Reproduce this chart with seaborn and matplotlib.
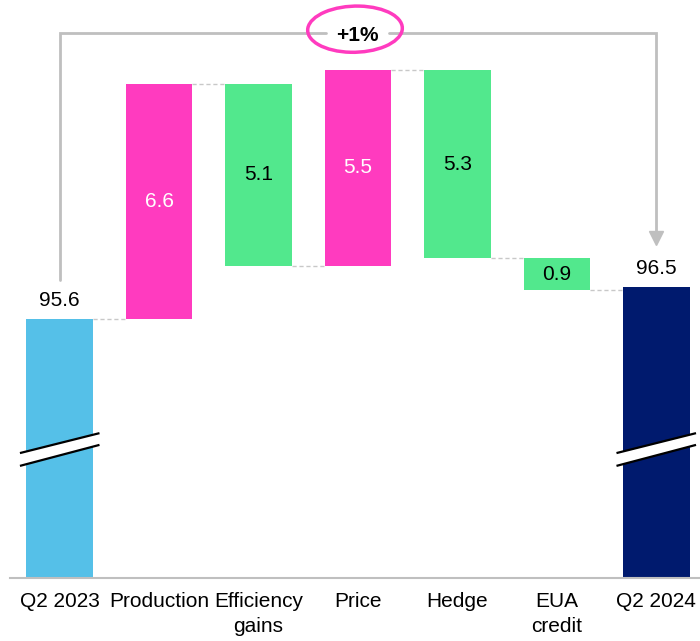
import numpy as np
import pandas as pd
import matplotlib
matplotlib.use("Agg")
import matplotlib.pyplot as plt
from matplotlib.patches import Ellipse, Polygon
import seaborn as sns

categories = ["Q2 2023", "Production", "Efficiency\ngains", "Price", "Hedge", "EUA\ncredit", "Q2 2024"]
start_value = 95.6
end_value = 96.5
deltas = [6.6, -5.1, 5.5, -5.3, -0.9]
change_label = "+1%"

axis_floor = 88.32
colors = ["#55C0E8", "#FF3BBF", "#52E88D", "#FF3BBF", "#52E88D", "#52E88D", "#001A6E"]
text_colors = ["black", "white", "black", "white", "black", "black", "black"]

# build waterfall segments
bottoms = [axis_floor]
heights = [start_value - axis_floor]
levels = [start_value]
running = start_value
for d in deltas:
    bottoms.append(min(running, running + d))
    heights.append(abs(d))
    running += d
    levels.append(running)
bottoms.append(axis_floor)
heights.append(end_value - axis_floor)

df = pd.DataFrame({"category": categories, "height": heights, "bottom": bottoms})

sns.set_theme(style="white")
plt.rcParams["font.family"] = ["Liberation Sans", "DejaVu Sans"]

fig = plt.figure(figsize=(7, 6.41), dpi=100)
ax = fig.add_axes([10 / 700, 1 - 578 / 641, 690 / 700, 578 / 641])

sns.barplot(data=df, x="category", y="height", bottom=df["bottom"].values,
            width=0.67, errorbar=None, ax=ax, linewidth=0, color=colors[0],
            saturation=1)
for patch, c in zip(ax.patches, colors):
    patch.set_facecolor(c)
    patch.set_edgecolor(c)

ax.set_xlim(-0.5, 6.44)
ax.set_ylim(axis_floor, 104.56)
half = 0.335

# connectors
conn_levels = [start_value] + levels[1:]
for i, lv in enumerate(conn_levels):
    ax.plot([i + half, i + 1 - half], [lv, lv], color="#C8C8C8", lw=1,
            dashes=(3, 2), zorder=1)

# labels
ax.text(0, start_value + 0.25, f"{start_value:.1f}", ha="center", va="bottom",
        fontsize=15, color="black")
ax.text(6, end_value + 0.25, f"{end_value:.1f}", ha="center", va="bottom",
        fontsize=15, color="black")
for i, d in enumerate(deltas, start=1):
    ax.text(i, bottoms[i] + heights[i] / 2, f"{abs(d):.1f}", ha="center",
            va="center", fontsize=15, color=text_colors[i])

# break marks
def draw_break(ax, x):
    xs = [x - 0.4, x + 0.4]
    upper = [91.83, 92.39]
    lower = [91.47, 92.06]
    poly = Polygon([(xs[0], lower[0]), (xs[1], lower[1]), (xs[1], upper[1]),
                    (xs[0], upper[0])], closed=True, facecolor="white",
                   edgecolor="none", zorder=3)
    ax.add_patch(poly)
    ax.plot(xs, upper, color="black", lw=1.6, zorder=4, solid_capstyle="butt")
    ax.plot(xs, lower, color="black", lw=1.6, zorder=4, solid_capstyle="butt")

draw_break(ax, 0)
draw_break(ax, 6)

# bracket
bracket_y = 103.63
gray = "#BFBFBF"
ax.plot([0, 0, 2.68], [start_value + 1.1, bracket_y, bracket_y], color=gray,
        lw=2, clip_on=False, solid_joinstyle="miter")
ax.plot([3.31, 6, 6], [bracket_y, bracket_y, end_value + 1.55], color=gray,
        lw=2, clip_on=False, solid_joinstyle="miter")
ax.plot([6], [end_value + 1.36], marker="v", markersize=10, color=gray,
        markeredgecolor=gray, clip_on=False)

ell = Ellipse((2.97, 103.74), 0.95, 1.3, angle=-4, facecolor="none",
              edgecolor="#FF3BBF", lw=2.5, clip_on=False, zorder=5)
ax.add_patch(ell)
ax.text(2.99, 103.55, change_label, ha="center", va="center", fontsize=15,
        fontweight="bold", color="black", zorder=6)

# axes styling
for s in ["top", "right", "left"]:
    ax.spines[s].set_visible(False)
ax.spines["bottom"].set_color(gray)
ax.spines["bottom"].set_linewidth(1.5)
ax.set_yticks([])
ax.set_xlabel("")
ax.set_ylabel("")
ax.tick_params(axis="x", length=0, pad=10, labelsize=15, colors="black")
for lbl in ax.get_xticklabels():
    lbl.set_linespacing(1.4)

fig.savefig("out.png", dpi=100)
